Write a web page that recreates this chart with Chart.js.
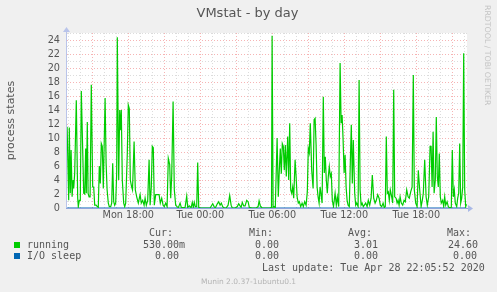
<!DOCTYPE html>
<html><head><meta charset="utf-8">
<script src="https://cdn.jsdelivr.net/npm/chart.js@4"></script>
<style>
html,body{margin:0;padding:0;background:#f0f0f0;}
#wrap{position:relative;width:497px;height:292px;overflow:hidden;background:#f0f0f0;}
canvas{position:absolute;left:0;top:0;}
.t{position:absolute;white-space:pre;color:#555;}
.mono{font-family:"DejaVu Sans Mono",monospace;font-size:10px;line-height:12px;}
.sq{position:absolute;width:6px;height:6px;}
</style></head><body>
<div id="wrap">
<canvas id="c" width="497" height="292"></canvas>
<div class="t" style="left:0;width:495px;text-align:center;top:5px;font-family:'DejaVu Sans';font-size:13px;line-height:16px;">VMstat - by day</div>
<div class="t" style="left:483px;top:5px;writing-mode:vertical-rl;font-family:'DejaVu Sans';font-size:7.8px;line-height:9px;color:#c4c4c4;">RRDTOOL / TOBI OETIKER</div>
<div id="legend"></div>
<div class="t" style="left:0;width:497px;text-align:center;top:277px;font-family:'DejaVu Sans';font-size:7.5px;line-height:9px;color:#b4b4b4;">Munin 2.0.37-1ubuntu0.1</div>
</div>
<script>
// time in minutes since Mon 12:00
const minutes = [54,62,65,70,74,79,84,87,92,100,107,110,115,120,125,132,137,142,147,150,155,159,164,169,175,182,187,192,199,205,210,215,220,225,230,235,244,249,254,260,265,272,277,282,287,292,297,302,305,312,317,322,325,330,337,342,347,355,360,365,370,377,381,389,395,402,410,419,425,432,439,444,450,457,464,469,475,480,485,490,497,505,514,520,527,534,540,547,554,560,567,572,577,584,590,597,604,610,619,625,635,644,652,657,665,674,680,685,690,695,702,707,712,719,744,769,782,789,795,805,812,819,825,832,839,849,859,867,874,880,894,905,912,919,924,930,937,944,952,959,965,979,999,1009,1014,1020,1029,1049,1069,1076,1079,1084,1089,1095,1104,1110,1115,1120,1125,1130,1135,1140,1145,1150,1157,1162,1167,1172,1177,1182,1187,1194,1199,1204,1210,1215,1222,1229,1235,1242,1249,1255,1260,1265,1270,1277,1284,1289,1294,1299,1304,1309,1314,1319,1324,1329,1335,1340,1345,1350,1355,1360,1365,1370,1375,1380,1386,1394,1400,1405,1412,1419,1424,1429,1434,1439,1444,1449,1454,1459,1465,1470,1475,1480,1485,1492,1497,1502,1509,1514,1519,1524,1529,1535,1540,1547,1554,1560,1567,1574,1580,1587,1594,1600,1607,1614,1620,1627,1634,1640,1645,1650,1655,1660,1665,1670,1677,1682,1687,1692,1699,1704,1709,1714,1719,1725,1732,1739,1745,1752,1759,1765,1772,1779,1785,1790,1797,1804,1810,1817,1824,1830,1835,1842,1849,1855,1862,1869,1874,1879,1884,1889,1895,1900,1905,1910,1915,1920,1925,1932,1937,1942,1947,1954,1960,1965,1970,1975,1980,1985,1990,1995,2002,2007,2012,2017,2022,2027,2032,2037,2042,2047,2051];
const running = [11.6,1.1,11.5,2.1,8.3,1.6,4.0,2.8,5.0,15.4,1.4,0.2,1.1,1.1,16.7,8.3,2.1,2.0,8.5,2.1,12.3,2.1,1.6,1.6,17.6,3.0,3.0,0.4,0.4,0.2,0.1,6.0,3.5,9.2,8.8,2.8,15.7,6.4,2.6,0.7,0.2,0.2,0.7,6.4,0.9,0.4,0.7,5.0,24.4,4.0,14.0,11.1,14.0,4.0,0.7,0.2,0.7,7.8,14.7,14.2,4.0,3.0,2.6,9.5,2.6,1.6,0.7,1.9,0.7,1.1,0.4,1.4,0.4,1.1,6.9,0.4,3.0,8.8,8.6,0.4,1.9,1.9,1.9,0.7,1.4,0.4,0.2,0.7,0.2,7.1,6.2,1.4,4.5,15.2,2.6,0.4,0.2,0.05,0.7,0.1,0.05,0.1,1.7,0.1,0.3,0.05,0.8,0.1,0.8,0.2,0.2,6.5,0.1,0,0,0,0.6,0.2,0,0.6,0.9,0.4,0.7,0.2,0,0,0.4,1.8,0.4,0,0,0.2,0.6,0.3,0.1,0.8,0.3,0.3,1.1,0.9,0.1,0,0,0.2,1.0,0.3,0,0,0,0.1,24.6,0.1,0.2,0,10.0,1.6,5.4,8.5,4.9,9.2,8.8,5.4,9.0,4.5,10.2,4.0,12.1,2.6,2.1,3.0,1.4,6.9,4.5,1.6,0.7,0.9,0.2,0.7,0.2,0.9,0.4,2.3,8.5,7.9,12.1,5.4,2.8,12.6,12.8,9.0,3.0,1.6,0.7,3.0,1.9,0.7,15.9,5.0,7.3,4.0,2.1,4.5,5.9,4.5,4.9,1.1,0.2,2.1,0.4,1.6,0.2,20.7,12.1,13.3,9.7,5.0,7.6,3.0,1.1,0.4,0.2,6.4,11.9,3.5,9.7,2.1,0.4,0.7,0.2,18.3,2.6,0.4,0.7,0.2,0.4,0.7,0.2,1.1,0.4,1.4,4.7,1.4,0.7,1.1,1.9,1.4,0.4,0.2,0.7,0.05,0.2,10.2,2.1,2.3,1.1,2.6,1.6,0.7,16.9,1.6,1.4,0.7,1.1,0.4,1.6,0.7,0.4,1.1,0.9,2.6,1.6,1.4,2.3,3.0,19.0,2.6,0.7,0.2,5.4,2.6,0.2,1.1,2.1,6.9,1.6,0.4,1.6,8.8,8.8,3.0,10.9,2.1,4.0,13.0,4.5,3.0,7.8,1.6,0.7,1.1,0.2,1.6,0.4,0.9,0.2,0.05,0.05,0.1,8.3,1.6,2.6,0.7,0.2,1.4,2.1,9.2,0.7,1.4,3.0,22.1,2.6,0.2,0.53];
const ioSleepMinutes = [54, 2051];
const ioSleep = [0, 0];
const tickMinutes = [360, 720, 1080, 1440, 1800];
const tickLabels = ['Mon 18:00', 'Tue 00:00', 'Tue 06:00', 'Tue 12:00', 'Tue 18:00'];
const seriesNames = ['running', 'I/O sleep'];
const statHeaders = ['Cur:', 'Min:', 'Avg:', 'Max:'];
const runningStats = ['530.00m', '0.00', '3.01', '24.60'];
const ioSleepStats = ['0.00', '0.00', '0.00', '0.00'];
const lastUpdate = 'Last update: Tue Apr 28 22:05:52 2020';

// ---- legend (HTML text) ----
const colors = ['#00cc00', '#0066b3'];
const legend = document.getElementById('legend');
function addText(txt, left, top) {
  const d = document.createElement('div');
  d.className = 't mono'; d.textContent = txt;
  d.style.left = left + 'px'; d.style.top = top + 'px';
  legend.appendChild(d);
}
const headerLeft = [149, 249, 348, 447];
statHeaders.forEach((h, i) => addText(h, headerLeft[i], 227));
const rowTops = [239, 250];
const statLefts = [[143, 255, 354, 448], [155, 255, 354, 453]];
[runningStats, ioSleepStats].forEach((st, r) => {
  const sq = document.createElement('div');
  sq.className = 'sq'; sq.style.left = '14px'; sq.style.top = (rowTops[r] + 3) + 'px';
  sq.style.background = colors[r];
  legend.appendChild(sq);
  addText(seriesNames[r], 27, rowTops[r]);
  st.forEach((v, i) => addText(v, statLefts[r][i], rowTops[r]));
});
addText(lastUpdate, 262, 262);

// ---- chart ----
const hourTicks = [];
for (let m = 60; m <= 2040; m += 60) hourTicks.push(m);
const RED = '#f6b4b4', GRAY = '#dcdcdc';

const decor = {
  id: 'decor',
  beforeDraw(chart) {
    const { ctx, chartArea: a } = chart;
    ctx.save(); ctx.fillStyle = '#ffffff';
    ctx.fillRect(a.left, a.top, a.right - a.left, a.bottom - a.top);
    ctx.restore();
  },
  afterDatasetsDraw(chart) {
    const { ctx, chartArea: a } = chart;
    ctx.save();
    ctx.fillStyle = '#b9c4ea';
    ctx.fillRect(a.left - 1, a.top - 3, 1, a.bottom - a.top + 3);
    ctx.beginPath();
    ctx.moveTo(a.left - 4, a.top - 1); ctx.lineTo(a.left - 0.5, a.top - 6); ctx.lineTo(a.left + 3, a.top - 1);
    ctx.closePath(); ctx.fill();
    ctx.fillStyle = '#8fa4dc';
    ctx.fillRect(a.left - 1, a.bottom, a.right - a.left + 3, 1);
    ctx.fillStyle = '#a9b8e6';
    ctx.beginPath();
    ctx.moveTo(a.right + 1, a.bottom - 3); ctx.lineTo(a.right + 6, a.bottom + 0.5); ctx.lineTo(a.right + 1, a.bottom + 4);
    ctx.closePath(); ctx.fill();
    ctx.restore();
  }
};

new Chart(document.getElementById('c'), {
  type: 'line',
  data: {
    datasets: [
      { label: seriesNames[0], data: minutes.map((m, i) => ({ x: m, y: running[i] })),
        borderColor: colors[0], borderWidth: 1.2, pointRadius: 0, tension: 0, fill: false },
      { label: seriesNames[1], data: ioSleepMinutes.map((m, i) => ({ x: m, y: ioSleep[i] })),
        borderColor: colors[1], borderWidth: 1, pointRadius: 0, tension: 0, fill: false }
    ]
  },
  options: {
    responsive: false, animation: false, devicePixelRatio: 1,
    layout: { padding: { left: 0, top: 33, right: 30, bottom: 0 } },
    plugins: { legend: { display: false }, tooltip: { enabled: false }, title: { display: false } },
    scales: {
      x: {
        type: 'linear', min: 53.5, max: 2053.5,
        afterBuildTicks: s => { s.ticks = hourTicks.map(v => ({ value: v })); },
        afterFit: s => { s.height = 84; },
        ticks: {
          autoSkip: false, maxRotation: 0, padding: 2,
          color: '#555', font: { family: 'DejaVu Sans', size: 9.7 },
          callback: v => { const k = tickMinutes.indexOf(v); return k >= 0 ? tickLabels[k] : ''; }
        },
        grid: { drawTicks: false, lineWidth: 1, color: c => (c.tick && c.tick.value % 180 === 0) ? RED : GRAY },
        border: { display: false, dash: [1, 2] }
      },
      y: {
        type: 'linear', min: 0, max: 25,
        afterFit: s => { s.width = 67; },
        ticks: {
          stepSize: 1, autoSkip: false, padding: 7, color: '#555', font: { family: 'DejaVu Sans', size: 9.7 },
          callback: v => (v % 2 === 0 ? String(v) : '')
        },
        grid: { drawTicks: false, lineWidth: 1, color: c => (c.tick && c.tick.value % 2 === 0) ? RED : GRAY },
        border: { display: false, dash: [1, 2] },
        title: { display: true, text: 'process states', color: '#555',
                 font: { family: 'DejaVu Sans', size: 11 }, padding: { top: 4.4, bottom: 0 } }
      }
    }
  },
  plugins: [decor]
});
</script>
</body></html>
